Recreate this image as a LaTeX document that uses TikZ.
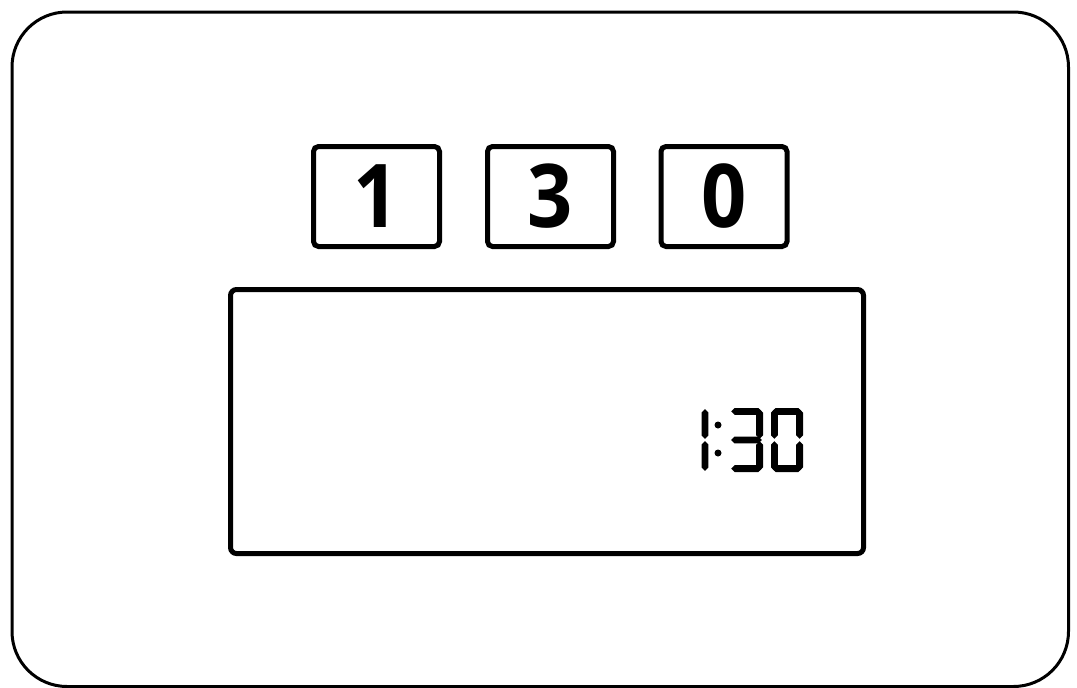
\documentclass[tikz,border=0pt]{standalone}
\usepackage{fontspec}
\newfontfamily\digitfont{Open Sans}
\begin{document}
\begin{tikzpicture}[x=1pt,y=-1pt,
  keybox/.style={draw, line width=5pt, rounded corners=5pt, minimum width=126pt, minimum height=100pt, inner sep=0pt, outer sep=0pt, font=\digitfont\bfseries\fontsize{88}{88}\selectfont},
  lcd/.style={fill=black}]
\newcommand{\st}{3.4}
\newcommand{\hseg}[3]{\fill[lcd] (#1+1.2,#3) -- (#1+1.2+\st,#3-\st) -- (#2-1.2-\st,#3-\st) -- (#2-1.2,#3) -- (#2-1.2-\st,#3+\st) -- (#1+1.2+\st,#3+\st) -- cycle;}
\newcommand{\vseg}[3]{\fill[lcd] (#1,#2+1.2) -- (#1+\st,#2+1.2+\st) -- (#1+\st,#3-1.2-\st) -- (#1,#3-1.2) -- (#1-\st,#3-1.2-\st) -- (#1-\st,#2+1.2+\st) -- cycle;}
\useasboundingbox (0,0) rectangle (1077,688);
% outer frame
\draw[line width=3pt, rounded corners=55pt] (12,12) rectangle (1068.5,686.5);
% key boxes
\node[keybox] (k1) at (376.5,196.5) {\scalebox{0.9}[1]{1}};
\node[keybox] (k2) at (550.5,196.5) {\scalebox{0.9}[1]{3}};
\node[keybox] (k3) at (724,196.5) {\scalebox{0.9}[1]{0}};
% display
\node[draw, line width=5pt, rounded corners=6pt, minimum width=633pt, minimum height=264pt, inner sep=0pt, outer sep=0pt] (disp) at (547,421.5) {};
% LCD "1:30"
% digit 1
\vseg{705}{408}{440}
\vseg{705}{440}{472}
% colon
\fill[lcd] (718,425) circle (3.5);
\fill[lcd] (718,453) circle (3.5);
% digit 3 : L=730 R=762
\hseg{730}{763}{411.4}
\hseg{730}{763}{440}
\hseg{730}{763}{468.6}
\vseg{759.6}{408}{440}
\vseg{759.6}{440}{472}
% digit 0 : L=771 R=802
\hseg{771}{803}{411.4}
\hseg{771}{803}{468.6}
\vseg{774.4}{408}{440}
\vseg{774.4}{440}{472}
\vseg{799.6}{408}{440}
\vseg{799.6}{440}{472}
\end{tikzpicture}
\end{document}
